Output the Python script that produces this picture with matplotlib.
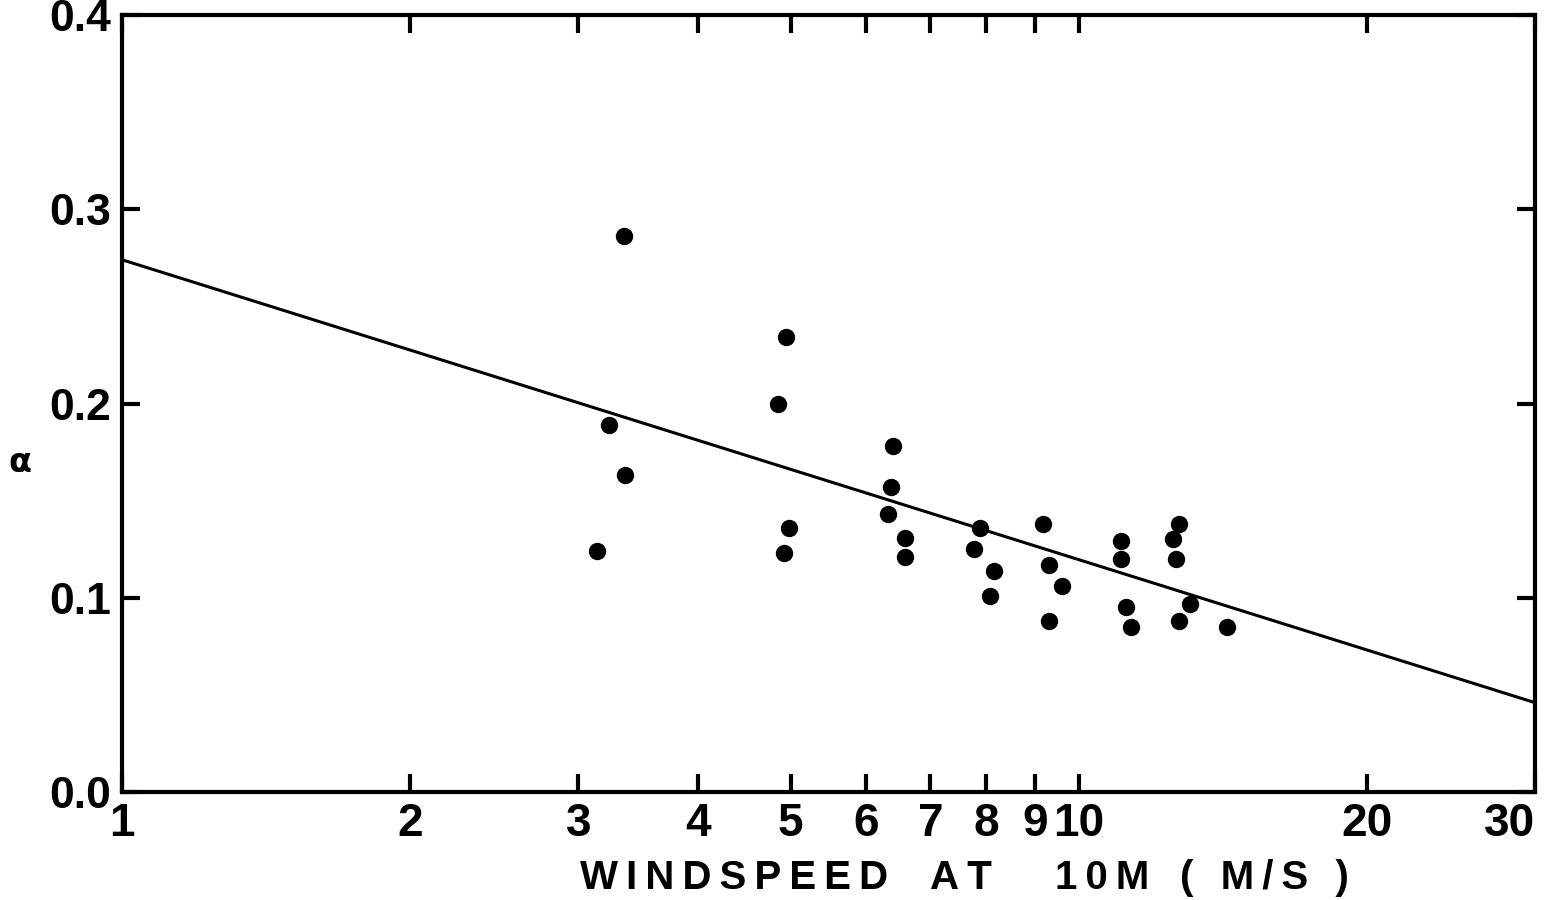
import numpy as np
import matplotlib.pyplot as plt
from matplotlib.ticker import FixedLocator, NullLocator, NullFormatter

# data
wind = [3.14, 3.23, 3.35, 3.36, 4.85, 4.94, 4.92, 4.98,
        6.40, 6.37, 6.32, 6.59, 6.59, 7.78, 7.89, 8.16, 8.08,
        9.18, 9.31, 9.31, 9.61, 11.07, 11.07, 11.21, 11.34,
        12.55, 12.73, 12.64, 12.73, 13.08, 14.29]
alpha = [0.124, 0.189, 0.286, 0.163, 0.200, 0.234, 0.123, 0.136,
         0.178, 0.157, 0.143, 0.131, 0.121, 0.125, 0.136, 0.114, 0.101,
         0.138, 0.117, 0.088, 0.106, 0.129, 0.120, 0.095, 0.085,
         0.130, 0.138, 0.120, 0.088, 0.097, 0.085]

fit_x = [1, 30]
fit_y = [0.274, 0.046]

xticks = [1, 2, 3, 4, 5, 6, 7, 8, 9, 10, 20, 30]
yticks = [0.0, 0.1, 0.2, 0.3, 0.4]

fig = plt.figure(figsize=(15.58, 9), dpi=100)
ax = fig.add_axes([122/1558, 1-792/900, (1535-122)/1558, (792-15)/900])

ax.plot(fit_x, fit_y, color='black', lw=2.2)
ax.plot(wind, alpha, 'o', color='black', ms=11.5)

ax.set_xscale('log')
ax.set_xlim(1, 30)
ax.set_ylim(0, 0.4)

ax.xaxis.set_major_locator(FixedLocator(xticks))
ax.xaxis.set_minor_locator(NullLocator())
ax.xaxis.set_minor_formatter(NullFormatter())
ax.set_xticklabels([str(t) for t in xticks])
ax.set_yticks(yticks)
ax.set_yticklabels(['%.1f' % t for t in yticks])

ax.tick_params(which='major', direction='in', length=13, width=3,
               top=True, right=True, color='black')
ax.tick_params(axis='x', pad=7)
ax.tick_params(axis='y', pad=8)
for lab in ax.get_xticklabels():
    lab.set_family(['Liberation Sans', 'DejaVu Sans'])
    lab.set_fontsize(33)
    lab.set_fontweight('bold')
for lab in ax.get_yticklabels():
    lab.set_family(['Liberation Sans', 'DejaVu Sans'])
    lab.set_fontsize(32)
    lab.set_fontweight('bold')
ax.get_xticklabels()[-1].set_horizontalalignment('right')
ax.get_xticklabels()[-1].set_x(31.2)

for s in ax.spines.values():
    s.set_linewidth(3)

# x label, spread out like the original lettering
ts = '\u2009'
parts = [('WINDSPEED', 580), ('AT', 930), ('10M', 1055), ('( M/S )', 1180)]
for word, px in parts:
    fig.text(px/1558, 1-878/900, ts.join(word), ha='left', va='center',
             fontsize=29, fontweight='bold',
             family=['Liberation Sans', 'DejaVu Sans'])
fig.text(20/1558, 1-462/900, 'α', ha='center', va='center', fontsize=24,
         fontweight='bold', family=['DejaVu Sans'])

fig.savefig('out.png', dpi=100)
